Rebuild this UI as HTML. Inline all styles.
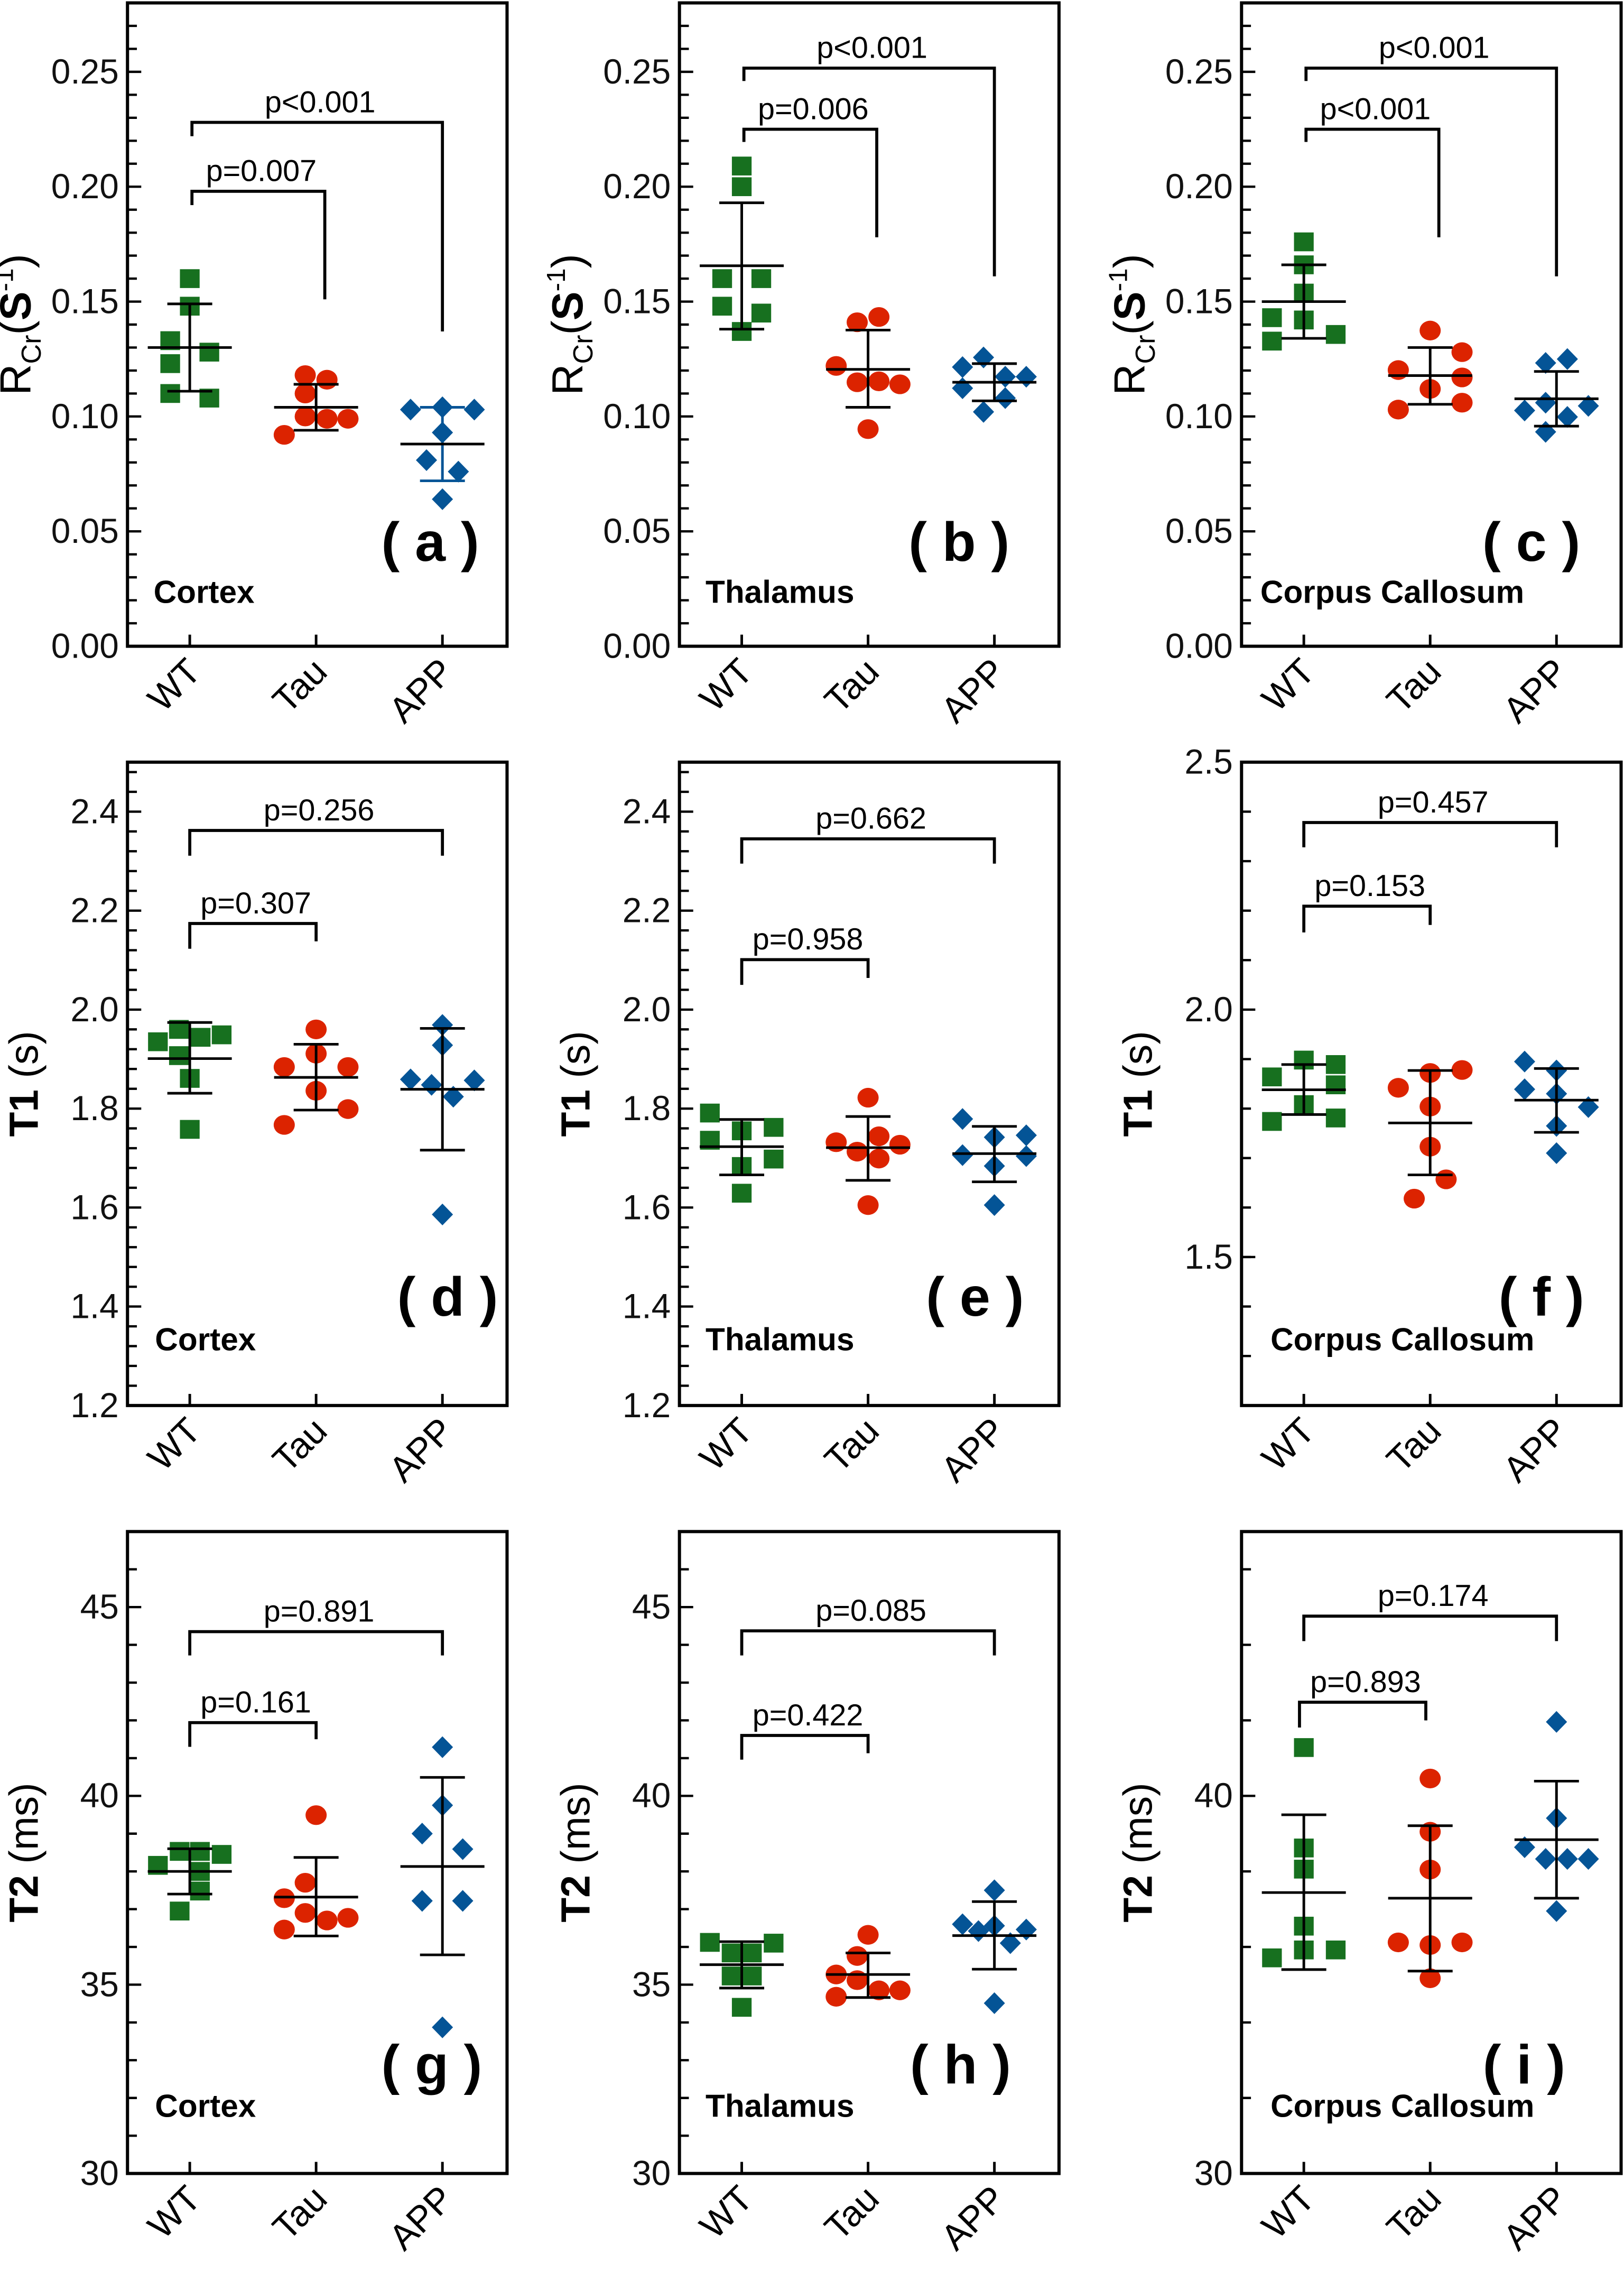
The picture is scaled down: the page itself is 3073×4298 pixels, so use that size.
<!DOCTYPE html>
<html><head><meta charset="utf-8"><style>
html,body{margin:0;padding:0;background:#fff;}
svg{display:block;}
text{font-family:"Liberation Sans",sans-serif;}
</style></head>
<body>
<svg id="fig" xmlns="http://www.w3.org/2000/svg" width="3073" height="4298" viewBox="0 0 1121 1568" preserveAspectRatio="none"></svg>
<script>
const categories = ["WT","Tau","APP"];
// Panel a: Cortex R_Cr
const aWT=[0.160,0.148,0.133,0.128,0.123,0.110,0.108];
const aTau=[0.118,0.116,0.110,0.100,0.099,0.099,0.092];
const aAPP=[0.103,0.104,0.103,0.093,0.081,0.076,0.064];
const aMean=[0.130,0.104,0.088], aLo=[0.111,0.094,0.072], aHi=[0.149,0.114,0.104];
const aP=["p=0.007","p<0.001"];
// Panel b: Thalamus R_Cr
const bWT=[0.209,0.200,0.160,0.148,0.160,0.145,0.137];
const bTau=[0.141,0.1433,0.122,0.1149,0.1153,0.114,0.0945];
const bAPP=[0.1257,0.1215,0.1123,0.1173,0.1173,0.108,0.102];
const bMean=[0.1656,0.1205,0.1149], bLo=[0.138,0.104,0.1068], bHi=[0.193,0.1376,0.123];
const bP=["p=0.006","p<0.001"];
// Panel c: Corpus Callosum R_Cr
const cWT=[0.176,0.166,0.1537,0.142,0.143,0.1328,0.1357];
const cTau=[0.1374,0.1202,0.128,0.117,0.112,0.103,0.106];
const cAPP=[0.1233,0.125,0.1026,0.106,0.0998,0.1046,0.0933];
const cMean=[0.150,0.1178,0.1077], cLo=[0.134,0.1053,0.0958], cHi=[0.166,0.130,0.1196];
const cP=["p<0.001","p<0.001"];
// Panel d: Cortex T1
const dWT=[1.935,1.960,1.944,1.949,1.907,1.861,1.758];
const dTau=[1.960,1.884,1.884,1.911,1.836,1.799,1.767];
const dAPP=[1.969,1.928,1.859,1.848,1.824,1.857,1.586];
const dMean=[1.901,1.863,1.839], dLo=[1.831,1.797,1.716], dHi=[1.974,1.930,1.962];
const dP=["p=0.307","p=0.256"];
// Panel e: Thalamus T1
const eWT=[1.791,1.736,1.755,1.683,1.629,1.762,1.698];
const eTau=[1.822,1.732,1.713,1.744,1.699,1.727,1.605];
const eAPP=[1.779,1.706,1.742,1.684,1.746,1.704,1.605];
const eMean=[1.723,1.721,1.709], eLo=[1.666,1.655,1.652], eHi=[1.778,1.784,1.764];
const eP=["p=0.958","p=0.662"];
// Panel f: Corpus Callosum T1
const fWT=[1.864,1.898,1.889,1.848,1.808,1.774,1.781];
const fTau=[1.872,1.878,1.842,1.804,1.723,1.657,1.618];
const fAPP=[1.895,1.877,1.839,1.830,1.803,1.765,1.710];
const fMean=[1.838,1.771,1.817], fLo=[1.788,1.666,1.752], fHi=[1.889,1.877,1.881];
const fP=["p=0.153","p=0.457"];
// Panel g: Cortex T2
const gWT=[38.16,38.53,38.53,38.45,38.00,37.48,36.95];
const gTau=[39.49,37.70,37.29,36.90,36.70,36.77,36.46];
const gAPP=[41.29,39.75,39.00,38.59,37.22,37.22,33.87];
const gMean=[38.0,37.32,38.13], gLo=[37.40,36.29,35.79], gHi=[38.60,38.37,40.49];
const gP=["p=0.161","p=0.891"];
// Panel h: Thalamus T2
const hWT=[36.12,35.84,35.84,36.10,35.23,35.23,34.40];
const hTau=[36.32,35.76,35.27,35.12,34.68,34.85,34.85];
const hAPP=[37.50,36.60,36.42,36.56,36.46,36.10,34.51];
const hMean=[35.53,35.27,36.30], hLo=[34.91,34.66,35.41], hHi=[36.14,35.84,37.20];
const hP=["p=0.422","p=0.085"];
// Panel i: Corpus Callosum T2
const iWT=[41.28,38.62,38.06,36.55,35.92,35.71,35.92];
const iTau=[40.46,39.05,38.05,36.12,36.05,36.12,35.17];
const iAPP=[41.96,39.41,38.64,38.33,38.33,38.33,36.95];
const iMean=[37.44,37.29,38.84], iLo=[35.40,35.36,37.29], iHi=[39.50,39.21,40.39];
const iP=["p=0.893","p=0.174"];

// layout (jitter offsets, not data)
const J={
 a:[[0,0,-13.5,13.5,-13.5,-13.5,13.5],[-7.5,7.5,-7.5,-7.5,7.5,22,-22],[-22,0,22,0,-11,11,0]],
 b:[[0,0,-13.5,-13.5,13.5,13.5,0],[-7.5,7.5,-22,-7.5,7.5,22,0],[-7.5,-22,-22,7.5,22,7.5,-7.5]],
 c:[[0,0,0,0,-22,-22,22],[0,-22,22,22,0,-22,22],[-7.5,7.5,-22,-7.5,7.5,22,-7.5]],
 d:[[-22,-7.5,7.5,22,-7.5,0,0],[0,-22,22,0,0,22,-22],[0,0,-22,-7.5,7.5,22,0]],
 e:[[-22,-22,0,0,0,22,22],[0,-22,-7.5,7.5,7.5,22,0],[-22,-22,0,0,22,22,0]],
 f:[[-22,0,22,22,0,-22,22],[0,22,-22,0,0,11,-11],[-22,0,-22,0,22,0,0]],
 g:[[-22,-7,7,22,7,7,-7],[0,-7.5,-22,-7.5,7.5,22,-22],[0,0,-14,14,-14,14,0]],
 h:[[-22,-7,7,22,-7,7,0],[0,-7.5,-22,-7.5,-22,7.5,22],[0,-22,-11,0,22,11,0]],
 i:[[0,0,0,0,0,-22,22],[0,0,0,-22,0,22,0],[0,0,-22,-7.5,7.5,22,0]]
};
const COLS=[88,469,857], W=262;
const ROWS=[
 {top:2,bot:446,vmin:0,vmax:0.28,minor:0.01,major:0.05,labels:[0,0.05,0.10,0.15,0.20,0.25],dec:2,letterY:387,regionY:416},
 {top:526,bot:970,vmin:1.2,vmax:2.5,minor:0.04,major:0.2,labels:[1.2,1.4,1.6,1.8,2.0,2.2,2.4],dec:1,letterY:908,regionY:932},
 {top:1057,bot:1500,vmin:30,vmax:47,minor:1,major:5,labels:[30,35,40,45],dec:0,letterY:1438,regionY:1461}
];
const panels=[
 {id:'a',r:0,c:0,wt:aWT,tau:aTau,app:aAPP,m:aMean,lo:aLo,hi:aHi,p:aP,br:[[1,0.198,0.192,0.151],[2,0.228,0.222,0.137]],region:'Cortex',rx:18,lx:209,appBlue:true},
 {id:'b',r:0,c:1,wt:bWT,tau:bTau,app:bAPP,m:bMean,lo:bLo,hi:bHi,p:bP,br:[[1,0.225,0.2195,0.178],[2,0.2516,0.246,0.161]],region:'Thalamus',rx:18,lx:193},
 {id:'c',r:0,c:2,wt:cWT,tau:cTau,app:cAPP,m:cMean,lo:cLo,hi:cHi,p:cP,br:[[1,0.225,0.2195,0.178],[2,0.2516,0.246,0.161]],region:'Corpus Callosum',rx:13,lx:200},
 {id:'d',r:1,c:0,wt:dWT,tau:dTau,app:dAPP,m:dMean,lo:dLo,hi:dHi,p:dP,br:[[1,2.174,2.123,2.138],[2,2.362,2.311,2.311]],region:'Cortex',rx:19,lx:221},
 {id:'e',r:1,c:1,wt:eWT,tau:eTau,app:eAPP,m:eMean,lo:eLo,hi:eHi,p:eP,br:[[1,2.101,2.050,2.064],[2,2.345,2.295,2.295]],region:'Thalamus',rx:18,lx:204},
 {id:'f',r:1,c:2,wt:fWT,tau:fTau,app:fAPP,m:fMean,lo:fLo,hi:fHi,p:fP,br:[[1,2.209,2.156,2.171],[2,2.378,2.328,2.328]],region:'Corpus Callosum',rx:20,lx:207,fAxis:true},
 {id:'g',r:2,c:0,wt:gWT,tau:gTau,app:gAPP,m:gMean,lo:gLo,hi:gHi,p:gP,br:[[1,41.94,41.30,41.50],[2,44.35,43.72,43.72]],region:'Cortex',rx:19,lx:210},
 {id:'h',r:2,c:1,wt:hWT,tau:hTau,app:hAPP,m:hMean,lo:hLo,hi:hHi,p:hP,br:[[1,41.6,40.96,41.13],[2,44.37,43.72,43.72]],region:'Thalamus',rx:18,lx:194},
 {id:'i',r:2,c:2,wt:iWT,tau:iTau,app:iAPP,m:iMean,lo:iLo,hi:iHi,p:iP,br:[[1,42.48,41.81,42.0],[2,44.76,44.1,44.1]],region:'Corpus Callosum',rx:20,lx:195,iAxis:true}
];
const COLORS=['#17701f','#dc2300','#045496'];
const svg=document.getElementById('fig');
const NS='http://www.w3.org/2000/svg';
function mk(tag,attrs,parent){const e=document.createElementNS(NS,tag);for(const k in attrs)e.setAttribute(k,attrs[k]);(parent||svg).appendChild(e);return e;}

panels.forEach(P=>{
  const R=ROWS[P.r], L=COLS[P.c];
  const g=mk('g',{});
  
  
  const yS=v=>R.bot-(v-R.vmin)/(R.vmax-R.vmin)*(R.bot-R.top);
  const xS=i=>L+43+87.2*i;
  const box=mk('rect',{x:L,y:R.top,width:W,height:R.bot-R.top,fill:'none',stroke:'#000','stroke-width':2.2},g);
  
  
  let ticks=[],labels=R.labels,dec=R.dec;
  if(P.fAxis){for(let v=1.3;v<=2.41;v+=0.1)ticks.push([+v.toFixed(2),Math.abs(v-2.0)<0.01]);ticks.push([1.5,true]);labels=[1.5,2.0,2.5];}
  else if(P.iAxis){for(let v=30;v<=46;v+=2)ticks.push([v,v%10===0]);labels=[30,40];}
  else{const n=Math.round((R.vmax-R.vmin)/R.minor);for(let k=0;k<=n;k++){const v=R.vmin+k*R.minor;const isM=Math.abs(Math.round((v-R.vmin)/R.major)*R.major-(v-R.vmin))<1e-6;ticks.push([v,isM]);}}
  const tg=mk('g',{},g);
  
  
  ticks.forEach(t=>{const y=yS(t[0]);if(y<R.top+1||y>R.bot-1)return;mk('line',{x1:L,x2:L+(t[1]?9.5:6.5),y1:y,y2:y,stroke:'#000','stroke-width':1.6},tg);});
  labels.forEach(v=>{const t=mk('text',{x:L-6,y:yS(v)+8,'text-anchor':'end','font-size':24,fill:'#111'},tg);t.textContent=v.toFixed(dec);
    
    });
  const cx=L-66, cy=(R.top+R.bot)/2;
  const yt=mk('text',{x:0,y:0,'text-anchor':'middle','font-size':(P.r===0?30:28),transform:`translate(${cx+ (P.r==0?-1:4)},${cy}) rotate(-90)`},g);
  
  
  if(P.r===0){yt.innerHTML='R<tspan font-size="19" dy="7">Cr</tspan><tspan dy="-7">(</tspan><tspan font-weight="bold">S</tspan><tspan font-size="18" dy="-12">-1</tspan><tspan dy="12">)</tspan>';}
  else if(P.r===1){yt.innerHTML='<tspan font-weight="bold">T1</tspan> (s)';}
  else{yt.innerHTML='<tspan font-weight="bold">T2</tspan> (ms)';}
  categories.forEach((c,i)=>{
    mk('line',{x1:xS(i),x2:xS(i),y1:R.bot,y2:R.bot-8,stroke:'#000','stroke-width':1.8},g);
    const t=mk('text',{x:0,y:0,'text-anchor':'end','font-size':25,transform:`translate(${xS(i)+9},${R.bot+19}) rotate(-45)`},g);
    t.textContent=c;
    
    
  });
  const groups=[P.wt,P.tau,P.app];
  groups.forEach((vals,gi)=>{
    const sg=mk('g',{fill:COLORS[gi]},g);
    
    
    vals.forEach((v,k)=>{
      const x=xS(gi)+J[P.id][gi][k], y=yS(v);
      let e;
      if(gi===0)e=mk('rect',{x:x-6.8,y:y-6.5,width:13.6,height:13},sg);
      else if(gi===1)e=mk('ellipse',{cx:x,cy:y,rx:7.3,ry:6.8},sg);
      else e=mk('polygon',{points:`${x},${y-7.5} ${x+7.3},${y} ${x},${y+7.5} ${x-7.3},${y}`},sg);
      
      
    });
  });
  groups.forEach((vals,gi)=>{
    const x=xS(gi), col=(P.appBlue&&gi===2)?COLORS[2]:'#000';
    const eg=mk('g',{stroke:col,'stroke-width':1.8,fill:'none'},g);
    
    
    mk('line',{x1:x,x2:x,y1:yS(P.hi[gi]),y2:yS(P.lo[gi])},eg);
    mk('line',{x1:x-15.5,x2:x+15.5,y1:yS(P.hi[gi]),y2:yS(P.hi[gi])},eg);
    mk('line',{x1:x-15.5,x2:x+15.5,y1:yS(P.lo[gi]),y2:yS(P.lo[gi])},eg);
    mk('line',{x1:x-29,x2:x+29,y1:yS(P.m[gi]),y2:yS(P.m[gi]),stroke:'#000'},eg);
  });
  P.br.forEach((b,bi)=>{
    const to=b[0];
    const x1=xS(0)+(P.r===0?1.5:0)+(P.iAxis&&bi===0?-3:0);
    const x2=xS(to)+(P.r===0&&to===1?6:0)+(P.iAxis&&bi===0?-3:0);
    const bg=mk('g',{},g);
    
    
    mk('path',{d:`M${x1},${yS(b[2])} L${x1},${yS(b[1])} L${x2},${yS(b[1])} L${x2},${yS(b[3])}`,fill:'none',stroke:'#000','stroke-width':2.1},bg);
    const t=mk('text',{x:(x1+x2)/2+2,y:yS(b[1])-7,'text-anchor':'middle','font-size':21},bg);
    t.textContent=P.p[bi];
    
    
  });
  const rt=mk('text',{x:L+P.rx,y:R.regionY,'font-size':22,'font-weight':'bold'},g);
  rt.textContent=P.region;
  
  
  const lt=mk('text',{x:L+P.lx,y:R.letterY,'text-anchor':'middle','font-size':38,'font-weight':'bold'},g);
  lt.textContent='( '+P.id+' )';
  
  
});
</script>
</body></html>
